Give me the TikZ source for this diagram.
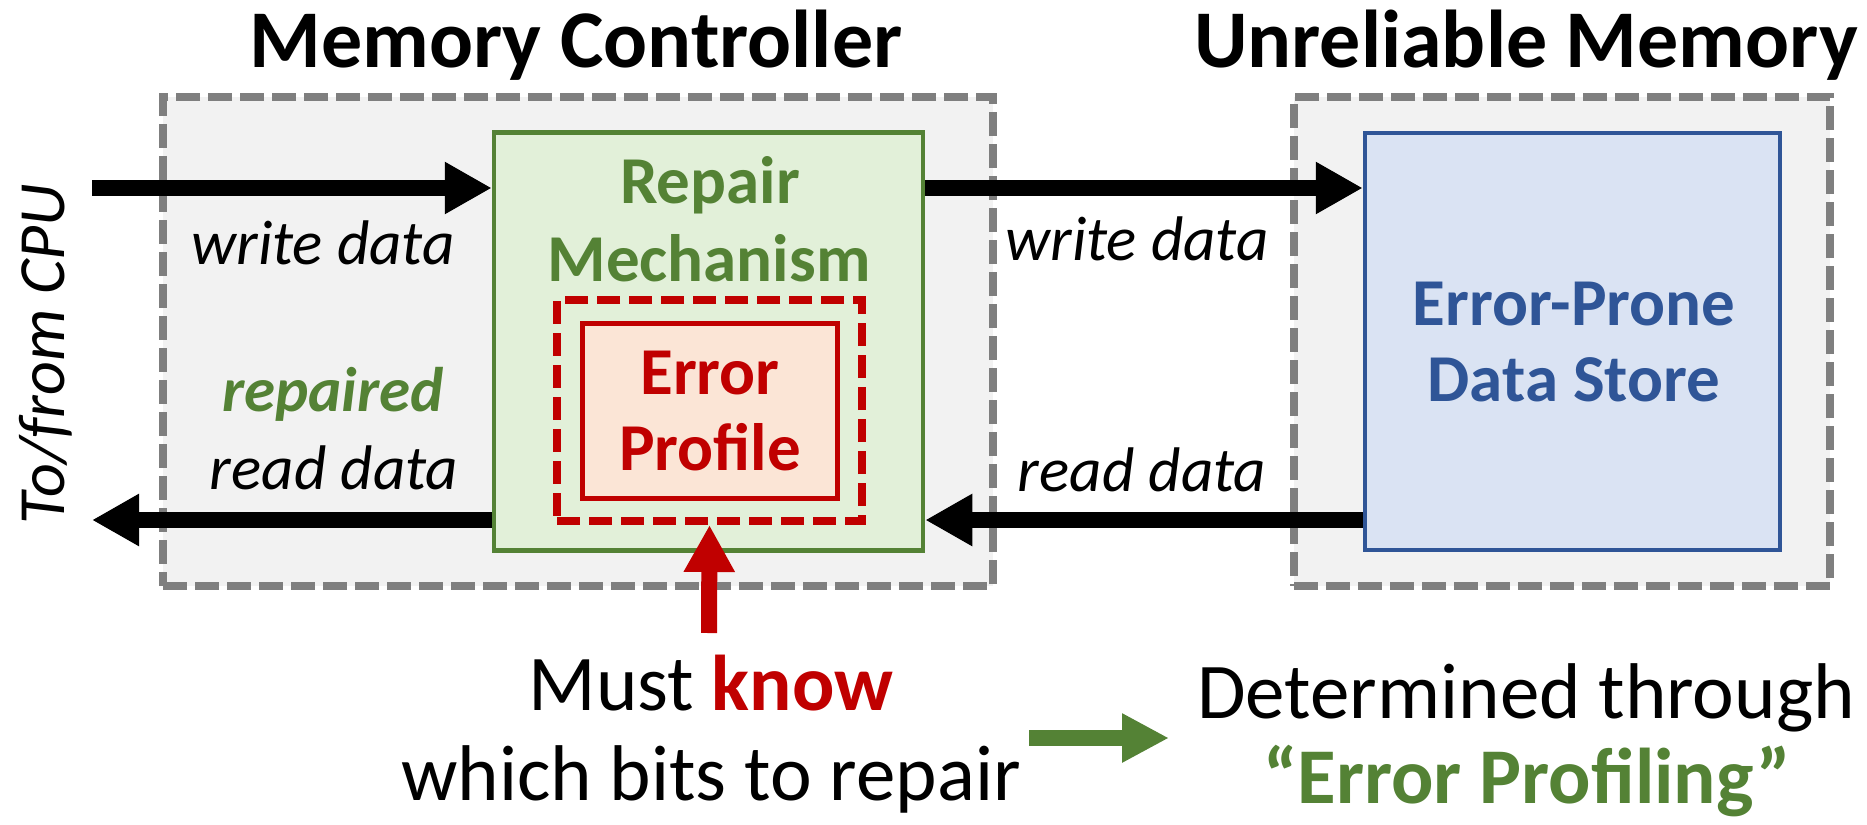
\documentclass[tikz,border=0pt]{standalone}
\usepackage{fontspec}
\setmainfont{Carlito}
\usetikzlibrary{arrows.meta}
\definecolor{gline}{HTML}{7F7F7F}
\definecolor{gfill}{HTML}{F2F2F2}
\definecolor{grn}{HTML}{548235}
\definecolor{grnfill}{HTML}{E2F0D9}
\definecolor{rd}{HTML}{C00000}
\definecolor{rdfill}{HTML}{FBE5D6}
\definecolor{blu}{HTML}{2F5597}
\definecolor{blufill}{HTML}{DAE3F3}
\tikzset{
  region/.style={draw=gline, fill=gfill, line width=7.5pt, dash pattern=on 24pt off 8pt, inner sep=0pt},
  repbox/.style={draw=grn, fill=grnfill, line width=4.5pt, inner sep=0pt},
  epouter/.style={draw=rd, line width=8pt, dash pattern=on 23pt off 9pt, inner sep=0pt},
  epinner/.style={draw=rd, fill=rdfill, line width=5pt, inner sep=0pt},
  dsbox/.style={draw=blu, fill=blufill, line width=4.5pt, inner sep=0pt},
  txt/.style={inner sep=0pt, anchor=base},
  title/.style={txt, font=\fontsize{82}{90}\selectfont\bfseries},
  boxlbl/.style={txt, font=\fontsize{67}{74}\selectfont\bfseries},
  lbl/.style={txt, font=\fontsize{63}{70}\selectfont\itshape},
  big/.style={txt, font=\fontsize{79}{86}\selectfont},
  bigarrow/.style={line width=16pt, -{Triangle[length=47pt,width=49pt]}},
}
\begin{document}
\begin{tikzpicture}[x=1pt,y=-1pt]
\useasboundingbox (0,0) rectangle (1867,824);
% regions
\node[region, minimum width=830pt, minimum height=489pt] (mc) at (578,341.5) {};
\node[region, minimum width=536pt, minimum height=489pt] (um) at (1562,341.5) {};
\node[title] (mct) at (576,68) {Memory Controller};
\node[title] (umt) at (1526,68) {Unreliable Memory};
% boxes
\node[repbox, minimum width=429pt, minimum height=418pt] (rep) at (708.5,341.5) {};
\node[epouter, minimum width=305pt, minimum height=221pt] (epd) at (709.5,410.5) {};
\node[epinner, minimum width=255pt, minimum height=175pt] (ep) at (709.5,410.5) {};
\node[dsbox, minimum width=415pt, minimum height=417pt] (ds) at (1572.5,341.5) {};
% box labels
\node[boxlbl, text=grn] (rep1) at (710,203) {Repair};
\node[boxlbl, text=grn] (rep2) at (709,281) {Mechanism};
\node[boxlbl, text=rd] (ep1) at (710,394) {Error};
\node[boxlbl, text=rd] (ep2) at (710,470) {Profile};
\node[boxlbl, text=blu] (ds1) at (1574,325) {Error-Prone};
\node[boxlbl, text=blu] (ds2) at (1574,401) {Data Store};
% arrows
\coordinate (cpuin) at (92,188);
\coordinate (cpuout) at (92,520);
\draw[bigarrow] (cpuin) -- (cpuin -| rep.west);
\draw[bigarrow] (rep.west |- cpuout) -- (cpuout);
\draw[bigarrow] (rep.east |- cpuin) -- (ds.west |- cpuin);
\draw[bigarrow] (ds.west |- cpuout) -- (rep.east |- cpuout);
% arrow labels
\node[lbl] (wd1) at (323,264) {write data};
\node[lbl, text=grn, font=\fontsize{63}{70}\selectfont\bfseries\itshape] (rp) at (333,411) {repaired};
\node[lbl] (rd1) at (334,489) {read data};
\node[lbl] (wd2) at (1137,260) {write data};
\node[lbl] (rd2) at (1142,491) {read data};
\node[txt, rotate=90, font=\fontsize{66}{72}\selectfont\itshape] (cpu) at (64,354) {To/from CPU};
% red arrow
\coordinate (redtail) at (709,633);
\draw[line width=16pt, draw=rd, -{Triangle[length=47pt,width=48pt]}] (redtail) -- (epd.south);
% bottom text
\node[big] (must) at (711,710) {Must \textcolor{rd}{\bfseries know}};
\node[big] (which) at (711,800) {which bits to repair};
\coordinate (ga) at (1029,738);
\coordinate (gb) at (1169,738);
\draw[line width=16pt, draw=grn, -{Triangle[length=47pt,width=46pt]}] (ga) -- (gb);
\node[big] (det) at (1526,718) {Determined through};
\node[big, text=grn, font=\fontsize{79}{86}\selectfont\bfseries] (prof) at (1527,803) {“Error Profiling”};
\end{tikzpicture}
\end{document}
